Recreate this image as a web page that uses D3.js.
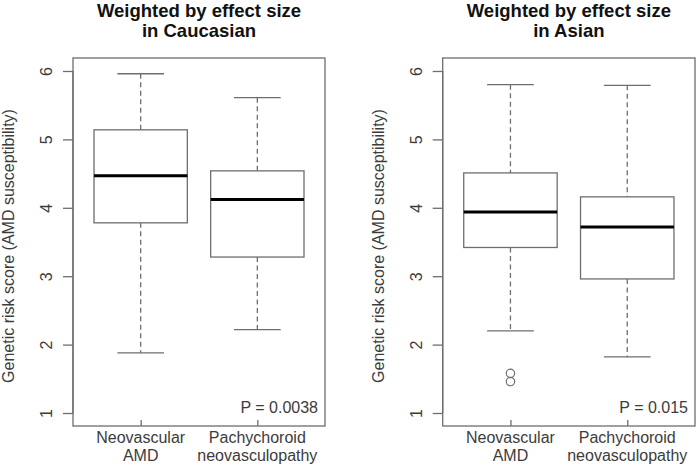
<!DOCTYPE html>
<html>
<head>
<meta charset="utf-8">
<script src="https://cdn.jsdelivr.net/npm/d3@7"></script>
<style>
  html, body { margin: 0; padding: 0; background: #fff; }
  svg { display: block; }
  text { font-family: "Liberation Sans", Arial, Helvetica, sans-serif; }
</style>
</head>
<body>
<svg id="chart" width="697" height="465"></svg>
<script>
// ---- data ----
const categories = ["Neovascular\nAMD", "Pachychoroid\nneovasculopathy"];
const panelTitles = ["Weighted by effect size\nin Caucasian", "Weighted by effect size\nin Asian"];
const pValues = ["P = 0.0038", "P = 0.015"];
const yTicks = [1, 2, 3, 4, 5, 6];
const yLabel = "Genetic risk score (AMD susceptibility)";
// five-number summaries: [lowerWhisker, Q1, median, Q3, upperWhisker]
const caucasianStats = [
  [1.88, 3.78, 4.47, 5.14, 5.96],
  [2.22, 3.28, 4.12, 4.54, 5.61]
];
const asianStats = [
  [2.20, 3.42, 3.94, 4.51, 5.80],
  [1.82, 2.96, 3.72, 4.16, 5.79]
];
const caucasianOutliers = [[], []];
const asianOutliers = [[1.58, 1.46], []];

const panels = [
  { title: panelTitles[0], stats: caucasianStats, outliers: caucasianOutliers, p: pValues[0], left: 73, right: 325, labelX: 14, tickX: 52 },
  { title: panelTitles[1], stats: asianStats, outliers: asianOutliers, p: pValues[1], left: 442.7, right: 695, labelX: 384, tickX: 422 }
];

const svg = d3.select("#chart");
const plotTop = 58, plotBottom = 426;
const y = d3.scaleLinear().domain([0.81, 6.19]).range([plotBottom, plotTop]);

const lineCol = "#6e6e6e";
const textCol = "#3c3c3c";

panels.forEach(p => {
  const g = svg.append("g");
  const x = d3.scalePoint().domain(categories).range([p.left, p.right]).padding(0.58);
  const step = x.step();
  const bw = step * 0.8, cw = step * 0.4;
  const cx = (p.left + p.right) / 2;

  // title
  const t = g.append("text").attr("text-anchor", "middle")
    .attr("font-weight", "bold").attr("font-size", 18.5).attr("fill", "#111");
  p.title.split("\n").forEach((s, i) => {
    t.append("tspan").attr("x", cx).attr("y", 16.8 + i * 20.5).text(s);
  });

  // boxes
  categories.forEach((c, i) => {
    const [lo, q1, med, q3, hi] = p.stats[i];
    const xc = x(c);
    g.append("line").attr("x1", xc).attr("x2", xc).attr("y1", y(hi)).attr("y2", y(q3))
      .attr("stroke", lineCol).attr("stroke-width", 1.3).attr("stroke-dasharray", "5,3.5");
    g.append("line").attr("x1", xc).attr("x2", xc).attr("y1", y(q1)).attr("y2", y(lo))
      .attr("stroke", lineCol).attr("stroke-width", 1.3).attr("stroke-dasharray", "5,3.5");
    [lo, hi].forEach(v => {
      g.append("line").attr("x1", xc - cw / 2).attr("x2", xc + cw / 2)
        .attr("y1", y(v)).attr("y2", y(v))
        .attr("stroke", lineCol).attr("stroke-width", 1.3);
    });
    g.append("rect").attr("x", xc - bw / 2).attr("y", y(q3))
      .attr("width", bw).attr("height", y(q1) - y(q3))
      .attr("fill", "#fff").attr("stroke", lineCol).attr("stroke-width", 1.3);
    g.append("line").attr("x1", xc - bw / 2).attr("x2", xc + bw / 2)
      .attr("y1", y(med)).attr("y2", y(med))
      .attr("stroke", "#000").attr("stroke-width", 3);
    p.outliers[i].forEach(v => {
      g.append("circle").attr("cx", xc).attr("cy", y(v)).attr("r", 4.2)
        .attr("fill", "none").attr("stroke", lineCol).attr("stroke-width", 1.2);
    });
  });

  // plot frame
  g.append("rect").attr("x", p.left).attr("y", plotTop)
    .attr("width", p.right - p.left).attr("height", plotBottom - plotTop)
    .attr("fill", "none").attr("stroke", lineCol).attr("stroke-width", 1.3);

  // y axis
  const yAxis = d3.axisLeft(y).tickValues(yTicks).tickSize(10).tickFormat(d3.format("d"));
  const ya = g.append("g").attr("transform", `translate(${p.left},0)`).call(yAxis);
  ya.select(".domain").attr("d", `M0,${y(6)}V${y(1)}`).attr("stroke", lineCol).attr("stroke-width", 1.3);
  ya.selectAll(".tick line").attr("stroke", lineCol).attr("stroke-width", 1.3);
  ya.selectAll(".tick text").attr("x", null).attr("dy", null)
    .attr("transform", `translate(${p.tickX - p.left},0) rotate(-90)`)
    .attr("text-anchor", "middle")
    .attr("font-size", 16).attr("fill", textCol)
    .attr("font-family", "Liberation Sans, Arial, sans-serif");

  // y label
  g.append("text").attr("transform", `translate(${p.labelX},${(plotTop + plotBottom) / 2 + 4}) rotate(-90)`)
    .attr("text-anchor", "middle").attr("font-size", 16).attr("fill", textCol).text(yLabel);

  // x axis: ticks drawn upward from the bottom line
  const xAxis = d3.axisBottom(x).tickSize(-6).tickFormat("");
  const xa = g.append("g").attr("transform", `translate(0,${plotBottom})`).call(xAxis);
  xa.select(".domain").remove();
  xa.selectAll(".tick line").attr("stroke", lineCol).attr("stroke-width", 1.3);
  categories.forEach(c => {
    const tt = g.append("text").attr("text-anchor", "middle").attr("font-size", 16).attr("fill", textCol);
    c.split("\n").forEach((s, i) => {
      tt.append("tspan").attr("x", x(c)).attr("y", 443 + i * 18).text(s);
    });
  });

  // p value
  g.append("text").attr("x", p.right - 7).attr("y", 412.5).attr("text-anchor", "end")
    .attr("font-size", 16).attr("fill", textCol).text(p.p);
});
</script>
</body>
</html>
